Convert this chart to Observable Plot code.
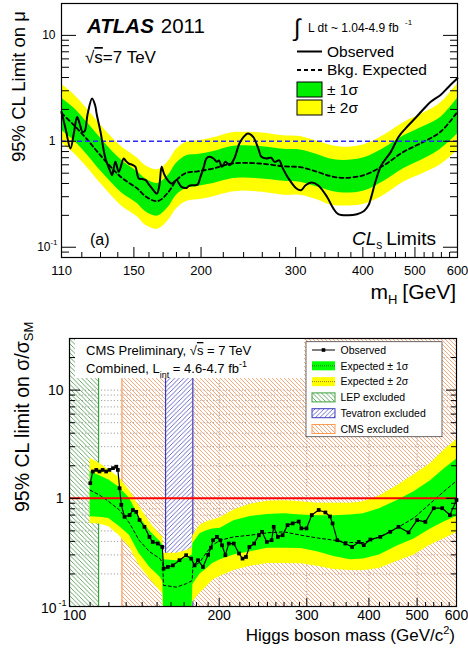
<!DOCTYPE html>
<html>
<head>
<meta charset="utf-8">
<script src="https://cdn.jsdelivr.net/npm/d3@7"></script>
<script src="https://cdn.jsdelivr.net/npm/@observablehq/plot@0.6"></script>
<style>
  html, body { margin: 0; padding: 0; background: #fff; }
  #wrap { width: 468px; }
  #wrap svg { display: block; }
</style>
</head>
<body>
<svg width="0" height="0" style="position:absolute">
  <defs>
    <pattern id="hatchLEP" patternUnits="userSpaceOnUse" width="4.5" height="4.5">
      <path d="M-1,-1L5.5,5.5M-1,3.5L1,5.5M3.5,-1L5.5,1" stroke="#5a9e5a" stroke-width="0.9" fill="none"/>
    </pattern>
    <pattern id="hatchCMS" patternUnits="userSpaceOnUse" width="4" height="4">
      <path d="M-1,-1L5,5M-1,3L1,5M3,-1L5,1" stroke="#f5a070" stroke-width="0.9" fill="none"/>
    </pattern>
    <pattern id="hatchTEV" patternUnits="userSpaceOnUse" width="4.5" height="4.5">
      <path d="M-1,5.5L5.5,-1M-1,1L1,-1M3.5,5.5L5.5,3.5" stroke="#5a5abf" stroke-width="0.9" fill="none"/>
    </pattern>
  </defs>
</svg>
<div id="wrap"></div>
<script>
// ---------------- ATLAS (top panel) data ----------------
const atlasMass = [110,116,123,129,136,143,152,158,166,174,180,188,197,211,227,240,260,285,306,329,348,368,402,438,476,519,558,600];
const atlasExp  = [1.85,1.42,1.03,0.77,0.57,0.445,0.36,0.30,0.272,0.333,0.43,0.505,0.52,0.555,0.615,0.625,0.615,0.58,0.57,0.515,0.47,0.452,0.48,0.595,0.795,0.99,1.23,1.9];
const atlasP1   = [2.55,2.06,1.49,1.12,0.83,0.65,0.52,0.44,0.40,0.48,0.62,0.73,0.75,0.80,0.89,0.91,0.89,0.84,0.83,0.75,0.68,0.66,0.70,0.86,1.12,1.38,1.68,2.55];
const atlasM1   = [1.27,1.02,0.74,0.55,0.41,0.32,0.26,0.215,0.197,0.24,0.31,0.36,0.375,0.40,0.44,0.45,0.44,0.42,0.41,0.37,0.34,0.325,0.34,0.42,0.55,0.68,0.84,1.17];
const atlasP2   = [3.45,2.77,2.0,1.5,1.11,0.87,0.70,0.585,0.54,0.65,0.84,0.98,1.01,1.08,1.2,1.22,1.2,1.13,1.11,1.0,0.92,0.88,0.93,1.14,1.5,1.85,2.3,3.5];
const atlasM2   = [0.97,0.77,0.56,0.42,0.31,0.24,0.195,0.16,0.148,0.18,0.23,0.27,0.28,0.30,0.33,0.34,0.33,0.31,0.31,0.28,0.25,0.245,0.255,0.31,0.41,0.5,0.6,0.82];

const atlasObsMass = [110,112,114.3,116,117.6,119,120.3,121.5,123,125.4,127,128,130,132.8,135.7,136.6,137.5,138.6,140.6,143.6,145,146.8,149,151,153.2,155.5,157.7,160,162.2,165.5,167.3,168.9,170.5,172.5,176.3,180.1,182,183.9,187.9,190,193.6,197,199.5,202.4,204.6,207.4,211,214,216,218.7,222,226,230.6,235.7,240,244.4,250,255.6,259,264.6,270,274,279.6,283,291,301,307,313,321,330,343,352,360,376,390,402,410,414,423,433,451,466,480,500,520,535,558,578,600];
const atlasObs     = [1.9,1.3,0.855,1.2,1.7,1.45,1.23,1.25,1.8,2.54,2.2,1.77,1.23,0.688,0.515,0.479,0.55,0.64,0.515,0.688,0.65,0.616,0.6,0.574,0.445,0.44,0.43,0.39,0.358,0.321,0.385,0.574,0.5,0.445,0.4,0.43,0.4,0.371,0.363,0.38,0.385,0.39,0.461,0.574,0.688,0.714,0.688,0.64,0.66,0.574,0.64,0.595,0.688,0.953,1.1,1.185,1.1,0.855,0.714,0.688,0.7,0.64,0.66,0.574,0.445,0.358,0.345,0.385,0.408,0.385,0.3,0.235,0.205,0.2,0.205,0.22,0.25,0.29,0.43,0.595,0.795,1.1,1.32,1.64,2.04,2.36,2.74,3.28,3.93];

const atlasYMajor = [0.1, 1, 10];
const atlasYMinor = [0.08,0.09,0.2,0.3,0.4,0.5,0.6,0.7,0.8,0.9,2,3,4,5,6,7,8,9,20];
const atlasXLabels = [110,150,200,300,400,500,600];
const atlasXMinor = [120,130,140,160,170,180,190,220,240,260,280,320,340,360,380,420,440,460,480,520,540,560,580];
const atlasLegend = ["Observed","Bkg. Expected","± 1σ","± 2σ"];

// ---------------- CMS (bottom panel) data ----------------
const cmsMass = [110,115,120,126,132,138,145,152,154,154.5,164,172,176.5,177,183,188,194,201,214,231,250,270,292,315,340,367,390,420,455,493,532,565,600];
const cmsExp  = [1.19,1.07,0.93,0.78,0.59,0.41,0.32,0.277,0.25,0.157,0.151,0.163,0.174,0.232,0.258,0.31,0.37,0.41,0.44,0.456,0.48,0.49,0.456,0.43,0.41,0.39,0.39,0.44,0.53,0.66,0.9,1.15,1.45];
const cmsP1   = [1.77,1.62,1.48,1.26,1.0,0.68,0.5,0.4,0.37,0.27,0.265,0.28,0.3,0.38,0.47,0.5,0.52,0.53,0.62,0.68,0.71,0.72,0.7,0.69,0.69,0.7,0.72,0.8,0.95,1.15,1.45,1.85,2.3];
const cmsM1   = [0.675,0.67,0.65,0.55,0.456,0.31,0.23,0.187,0.17,0.1,0.092,0.095,0.1,0.16,0.2,0.22,0.25,0.27,0.3,0.32,0.345,0.345,0.344,0.32,0.29,0.27,0.275,0.3,0.36,0.42,0.52,0.6,0.68];
const cmsP2   = [2.35,2.1,1.83,1.55,1.19,0.85,0.6,0.46,0.44,0.31,0.31,0.33,0.35,0.45,0.565,0.6,0.63,0.66,0.78,0.88,0.94,0.95,0.93,0.9,0.9,0.9,0.93,1.05,1.3,1.65,2.1,2.75,3.5];
const cmsM2   = [0.586,0.58,0.545,0.45,0.355,0.24,0.18,0.14,0.13,0.085,0.08,0.08,0.085,0.11,0.133,0.15,0.175,0.19,0.215,0.235,0.25,0.25,0.249,0.235,0.22,0.215,0.215,0.225,0.26,0.3,0.37,0.42,0.48];

const cmsObsMass = [110.1,111.4,113.2,114.9,116.6,118.5,120.3,122.3,124.2,125.1,126.1,127.1,129,132.1,134.1,136.2,138.3,141.5,144.8,147,150.5,153.7,154.6,157.7,161.4,166.4,171.6,175.7,178.4,181.3,185.5,190,192.5,194.4,197.9,201,202.6,205.8,209,213.9,219.2,222.8,226.4,230,235.1,240.3,243.9,249.3,254.9,257.4,262.4,268.2,274.4,281,289,292.6,299.6,307,317,327,334,338,345.5,358.6,370,381.6,390.6,402.7,421.6,441.6,458.7,480.6,500,519.5,540,561.6,582,600];
const cmsObs     = [1.38,1.77,1.83,1.77,1.83,1.77,1.83,1.9,1.96,1.83,1.24,0.87,0.675,0.7,0.78,0.75,0.63,0.545,0.44,0.395,0.382,0.355,0.224,0.232,0.24,0.268,0.298,0.277,0.24,0.268,0.232,0.3,0.35,0.41,0.44,0.41,0.368,0.298,0.382,0.382,0.309,0.277,0.287,0.355,0.382,0.456,0.49,0.395,0.41,0.545,0.44,0.456,0.565,0.586,0.61,0.527,0.527,0.7,0.78,0.74,0.68,0.586,0.41,0.382,0.355,0.395,0.369,0.416,0.44,0.49,0.545,0.484,0.629,0.606,0.81,0.81,0.7,0.965];

const lepExcluded = [100, 114.4];
const cmsExcluded = [127.5, 600];
const tevExcluded = [156, 177];

const cmsYMajor = [0.1, 1, 10];
const cmsYMinor = [0.2,0.3,0.4,0.5,0.6,0.7,0.8,0.9,2,3,4,5,6,7,8,9,20,30];
const cmsGridY = [0.2,0.3,0.4,0.5,0.6,0.7,0.8,0.9,2,3,4,5,6,7,8,9,10,20];
const cmsGridX = [200,300,400,500];
const cmsXLabels = [200,300,400,500,600];
const cmsXMinor = [110,120,130,140,150,160,170,180,190,210,220,230,240,250,260,270,280,290,320,340,360,380,420,440,460,480,520,540,560,580];
const cmsLegend = ["Observed","Expected ± 1σ","Expected ± 2σ","LEP excluded","Tevatron excluded","CMS excluded"];

// ---------------- build tables ----------------
const FONT = "'Liberation Sans', Arial, Helvetica, sans-serif";
const atlasBand = atlasMass.map((m,i)=>({m, exp: atlasExp[i], p1: atlasP1[i], m1: atlasM1[i], p2: atlasP2[i], m2: atlasM2[i]}));
const atlasObsRows = atlasObsMass.map((m,i)=>({m, v: atlasObs[i]}));
const cmsBand = cmsMass.map((m,i)=>({m, exp: cmsExp[i], p1: cmsP1[i], m1: cmsM1[i], p2: cmsP2[i], m2: cmsM2[i]}));
const cmsObsRows = cmsObsMass.map((m,i)=>({m, v: cmsObs[i]}));
const noText = () => "";

// ---------------- top plot ----------------
const topPlot = Plot.plot({
  width: 468, height: 310,
  marginLeft: 61, marginRight: 11, marginTop: 3, marginBottom: 53,
  style: {fontFamily: FONT, fontSize: "13px", background: "white", color: "black"},
  x: {type: "log", domain: [110, 600], label: null},
  y: {type: "log", domain: [0.08, 20], label: null},
  marks: [
    Plot.areaY(atlasBand, {x: "m", y1: "m2", y2: "p2", fill: "#ffff00", curve: "catmull-rom"}),
    Plot.areaY(atlasBand, {x: "m", y1: "m1", y2: "p1", fill: "#00ee00", curve: "catmull-rom"}),
    Plot.line(atlasBand, {x: "m", y: "exp", stroke: "black", strokeWidth: 1.8, strokeDasharray: "4,3", curve: "catmull-rom"}),
    Plot.ruleY([1], {stroke: "#2a2aff", strokeWidth: 1.6, strokeDasharray: "5,3"}),
    Plot.line(atlasObsRows, {x: "m", y: "v", stroke: "black", strokeWidth: 2, curve: "catmull-rom"}),
    Plot.frame({stroke: "black", strokeWidth: 1.2}),
    Plot.axisY(atlasYMinor, {anchor: "left", tickSize: -8, tickFormat: noText, label: null}),
    Plot.axisY(atlasYMajor, {anchor: "left", tickSize: -15, tickFormat: noText, label: null}),
    Plot.axisY(atlasYMinor, {anchor: "right", tickSize: -8, tickFormat: noText, label: null}),
    Plot.axisY(atlasYMajor, {anchor: "right", tickSize: -15, tickFormat: noText, label: null}),
    Plot.axisY([1, 10], {anchor: "left", tickSize: 0, tickPadding: 6, fontSize: 12, tickFormat: d => String(d), label: null}),
    Plot.text([0.1], {y: d => d, frameAnchor: "left", text: () => "10", textAnchor: "end", dx: -11, fontSize: 12}),
    Plot.text([0.1], {y: d => d, frameAnchor: "left", text: () => "-1", textAnchor: "end", dx: -4, dy: -5, fontSize: 8}),
    Plot.axisX(atlasXMinor, {anchor: "bottom", tickSize: -5, tickFormat: noText, label: null}),
    Plot.axisX([150,200,300,400,500], {anchor: "bottom", tickSize: -10, tickFormat: noText, label: null}),
    Plot.axisX(atlasXLabels, {anchor: "bottom", tickSize: 0, tickPadding: 8, fontSize: 13, tickFormat: d => String(d), label: null})
  ]
});

// ---------------- bottom plot ----------------
const botPlot = Plot.plot({
  width: 468, height: 340,
  marginLeft: 69, marginRight: 12, marginTop: 28, marginBottom: 44,
  style: {fontFamily: FONT, fontSize: "14px", background: "white", color: "black"},
  x: {type: "log", domain: [100, 600], label: null},
  y: {type: "log", domain: [0.1, 30], label: null},
  marks: [
    Plot.gridY(cmsGridY, {stroke: "#888", strokeOpacity: 1, strokeWidth: 0.8, strokeDasharray: "1.2,2"}),
    Plot.gridX(cmsGridX, {stroke: "#888", strokeOpacity: 1, strokeWidth: 0.8, strokeDasharray: "1.2,2"}),
    Plot.rect([lepExcluded], {x1: d => d[0], x2: d => d[1], fill: "url(#hatchLEP)", className: "hatch-lep"}),
    Plot.rect([cmsExcluded], {x1: d => d[0], x2: d => d[1], fill: "url(#hatchCMS)", className: "hatch-cms"}),
    Plot.rect([tevExcluded], {x1: d => d[0], x2: d => d[1], fill: "white"}),
    Plot.rect([tevExcluded], {x1: d => d[0], x2: d => d[1], fill: "url(#hatchTEV)", className: "hatch-tev"}),
    Plot.ruleX([lepExcluded[1]], {stroke: "#3aa03a", strokeWidth: 1.2}),
    Plot.ruleX([cmsExcluded[0]], {stroke: "#ff9a50", strokeWidth: 1.2}),
    Plot.ruleX(tevExcluded, {stroke: "#3a3ac0", strokeWidth: 1.2}),
    Plot.areaY(cmsBand, {x: "m", y1: "m2", y2: "p2", fill: "#ffff00", clip: true}),
    Plot.areaY(cmsBand, {x: "m", y1: "m1", y2: "p1", fill: "#00ff00", clip: true}),
    Plot.line(cmsBand, {x: "m", y: "exp", stroke: "black", strokeWidth: 1, strokeDasharray: "3,2.5"}),
    Plot.ruleY([1], {stroke: "#ff0000", strokeWidth: 2}),
    Plot.line(cmsObsRows, {x: "m", y: "v", stroke: "black", strokeWidth: 1.2}),
    Plot.dot(cmsObsRows, {x: "m", y: "v", symbol: "square", r: 2.1, fill: "black", stroke: null}),
    Plot.frame({stroke: "black", strokeWidth: 1.2}),
    Plot.axisY(cmsYMinor, {anchor: "left", tickSize: -6, tickFormat: noText, label: null}),
    Plot.axisY(cmsYMajor, {anchor: "left", tickSize: -11, tickFormat: noText, label: null}),
    Plot.axisY(cmsYMinor, {anchor: "right", tickSize: -6, tickFormat: noText, label: null}),
    Plot.axisY(cmsYMajor, {anchor: "right", tickSize: -11, tickFormat: noText, label: null}),
    Plot.axisY([1, 10], {anchor: "left", tickSize: 0, tickPadding: 6, fontSize: 14, tickFormat: d => String(d), label: null}),
    Plot.text([0.1], {y: d => d, frameAnchor: "left", text: () => "10", textAnchor: "end", dx: -13, dy: 2, fontSize: 14}),
    Plot.text([0.1], {y: d => d, frameAnchor: "left", text: () => "-1", textAnchor: "end", dx: -3, dy: -3, fontSize: 9}),
    Plot.axisX(cmsXMinor, {anchor: "bottom", tickSize: -4, tickFormat: noText, label: null}),
    Plot.axisX(cmsGridX, {anchor: "bottom", tickSize: -8, tickFormat: noText, label: null}),
    Plot.axisX(cmsXLabels, {anchor: "bottom", tickSize: 0, tickPadding: 4, fontSize: 14, tickFormat: d => String(d), label: null}),
    Plot.axisX([100], {anchor: "bottom", tickSize: 0, tickPadding: 4, fontSize: 14, dx: 5, tickFormat: d => String(d), label: null})
  ]
});

// ensure hatch fills (in case url() constants are not passed through)
const bsel = d3.select(botPlot);
bsel.selectAll(".hatch-lep rect").attr("fill", "url(#hatchLEP)");
bsel.selectAll(".hatch-cms rect").attr("fill", "url(#hatchCMS)");
bsel.selectAll(".hatch-tev rect").attr("fill", "url(#hatchTEV)");

// ---------------- top annotations ----------------
const tsel = d3.select(topPlot);
const ta = tsel.append("g").attr("font-family", FONT).attr("fill", "black").attr("text-anchor", "start");
const atl = ta.append("text").attr("x", 87).attr("y", 33).attr("font-size", 20.5);
atl.append("tspan").attr("font-weight", "bold").attr("font-style", "italic").text("ATLAS");
atl.append("tspan").attr("dx", 7).text("2011");
const rs = ta.append("text").attr("x", 85).attr("y", 63).attr("font-size", 17);
rs.append("tspan").text("√");
rs.append("tspan").attr("text-decoration", "overline").text("s");
rs.append("tspan").text("=7 TeV");
ta.append("text").attr("x", 294).attr("y", 36).attr("font-size", 24).text("∫");
ta.append("text").attr("x", 308).attr("y", 31.5).attr("font-size", 12).text("L dt ~ 1.04-4.9 fb");
ta.append("text").attr("x", 405).attr("y", 25).attr("font-size", 8).text("-1");
// legend
const lyTop = [51.5, 70, 89.5, 107.5];
ta.append("line").attr("x1", 297).attr("x2", 322).attr("y1", lyTop[0]).attr("y2", lyTop[0]).attr("stroke", "black").attr("stroke-width", 2);
ta.append("line").attr("x1", 297).attr("x2", 322).attr("y1", lyTop[1]).attr("y2", lyTop[1]).attr("stroke", "black").attr("stroke-width", 1.8).attr("stroke-dasharray", "4,3");
ta.append("rect").attr("x", 297).attr("y", lyTop[2] - 7.5).attr("width", 25).attr("height", 15).attr("fill", "#00ee00").attr("stroke", "black").attr("stroke-width", 1);
ta.append("rect").attr("x", 297).attr("y", lyTop[3] - 7.5).attr("width", 25).attr("height", 15).attr("fill", "#ffff00").attr("stroke", "black").attr("stroke-width", 1);
atlasLegend.forEach((s, i) => {
  ta.append("text").attr("x", 327).attr("y", lyTop[i] + 5.3).attr("font-size", 15.5).text(s);
});
ta.append("text").attr("x", 90).attr("y", 245).attr("font-size", 16).text("(a)");
const cls = ta.append("text").attr("x", 352).attr("y", 245).attr("font-size", 19);
cls.append("tspan").attr("font-style", "italic").text("CL");
cls.append("tspan").attr("font-size", 12).attr("dy", 4).text("s");
cls.append("tspan").attr("dy", -4).attr("dx", 4).text("Limits");
const xt = ta.append("text").attr("x", 456).attr("y", 298.5).attr("font-size", 21).attr("text-anchor", "end");
xt.append("tspan").text("m");
xt.append("tspan").attr("font-size", 13).attr("dy", 5).text("H");
xt.append("tspan").attr("dy", -5).attr("dx", 5).text("[GeV]");
ta.append("text").attr("transform", "translate(25,162) rotate(-90)").attr("font-size", 18.5).text("95% CL Limit on μ");

// ---------------- bottom annotations ----------------
const ba = bsel.append("g").attr("font-family", FONT).attr("fill", "black").attr("text-anchor", "start");
ba.append("rect").attr("x", 75).attr("y", 29).attr("width", 229).attr("height", 39).attr("fill", "white");
const cp = ba.append("text").attr("x", 86).attr("y", 45).attr("font-size", 13);
cp.append("tspan").text("CMS Preliminary, √");
cp.append("tspan").attr("text-decoration", "overline").text("s");
cp.append("tspan").text(" = 7 TeV");
const cmb = ba.append("text").attr("x", 86).attr("y", 63).attr("font-size", 13);
cmb.append("tspan").text("Combined, L");
cmb.append("tspan").attr("font-size", 9).attr("dy", 5).text("int");
cmb.append("tspan").attr("dy", -5).text(" = 4.6-4.7 fb");
cmb.append("tspan").attr("font-size", 9).attr("dy", -6).text("-1");
// legend box
ba.append("rect").attr("x", 306).attr("y", 31.7).attr("width", 136).attr("height", 95).attr("fill", "white").attr("stroke", "#444").attr("stroke-width", 0.8);
const lyB = [40, 55.8, 71.6, 87.4, 103.2, 119];
const sx = 312, sw = 23, sh = 9;
ba.append("line").attr("x1", sx).attr("x2", sx + sw).attr("y1", lyB[0]).attr("y2", lyB[0]).attr("stroke", "black").attr("stroke-width", 1);
ba.append("rect").attr("x", sx + sw / 2 - 1.8).attr("y", lyB[0] - 1.8).attr("width", 3.6).attr("height", 3.6).attr("fill", "black");
ba.append("rect").attr("x", sx).attr("y", lyB[1] - sh / 2).attr("width", sw).attr("height", sh).attr("fill", "#00ff00");
ba.append("line").attr("x1", sx).attr("x2", sx + sw).attr("y1", lyB[1]).attr("y2", lyB[1]).attr("stroke", "#1a5a1a").attr("stroke-width", 0.9).attr("stroke-dasharray", "1,1");
ba.append("rect").attr("x", sx).attr("y", lyB[2] - sh / 2).attr("width", sw).attr("height", sh).attr("fill", "#ffff00");
ba.append("line").attr("x1", sx).attr("x2", sx + sw).attr("y1", lyB[2]).attr("y2", lyB[2]).attr("stroke", "#8a7000").attr("stroke-width", 0.9).attr("stroke-dasharray", "1,1");
[["url(#hatchLEP)", "#3aa03a"], ["url(#hatchTEV)", "#3a3ac0"], ["url(#hatchCMS)", "#ff9a50"]].forEach(([f, s], i) => {
  ba.append("rect").attr("x", sx).attr("y", lyB[3 + i] - sh / 2).attr("width", sw).attr("height", sh).attr("fill", f).attr("stroke", s).attr("stroke-width", 1);
});
cmsLegend.forEach((s, i) => {
  ba.append("text").attr("x", 340.5).attr("y", lyB[i] + 3.8).attr("font-size", 10.5).text(s);
});
const bxt = ba.append("text").attr("x", 455).attr("y", 331).attr("font-size", 17).attr("text-anchor", "end");
bxt.append("tspan").text("Higgs boson mass (GeV/c");
bxt.append("tspan").attr("font-size", 11).attr("dy", -7).text("2");
bxt.append("tspan").attr("dy", 7).text(")");
const byt = ba.append("text").attr("transform", "translate(29,202) rotate(-90)").attr("font-size", 19.5);
byt.append("tspan").text("95% CL limit on σ/σ");
byt.append("tspan").attr("font-size", 13).attr("dy", 4).text("SM");

const wrap = document.getElementById("wrap");
wrap.appendChild(topPlot);
wrap.appendChild(botPlot);
</script>
</body>
</html>
